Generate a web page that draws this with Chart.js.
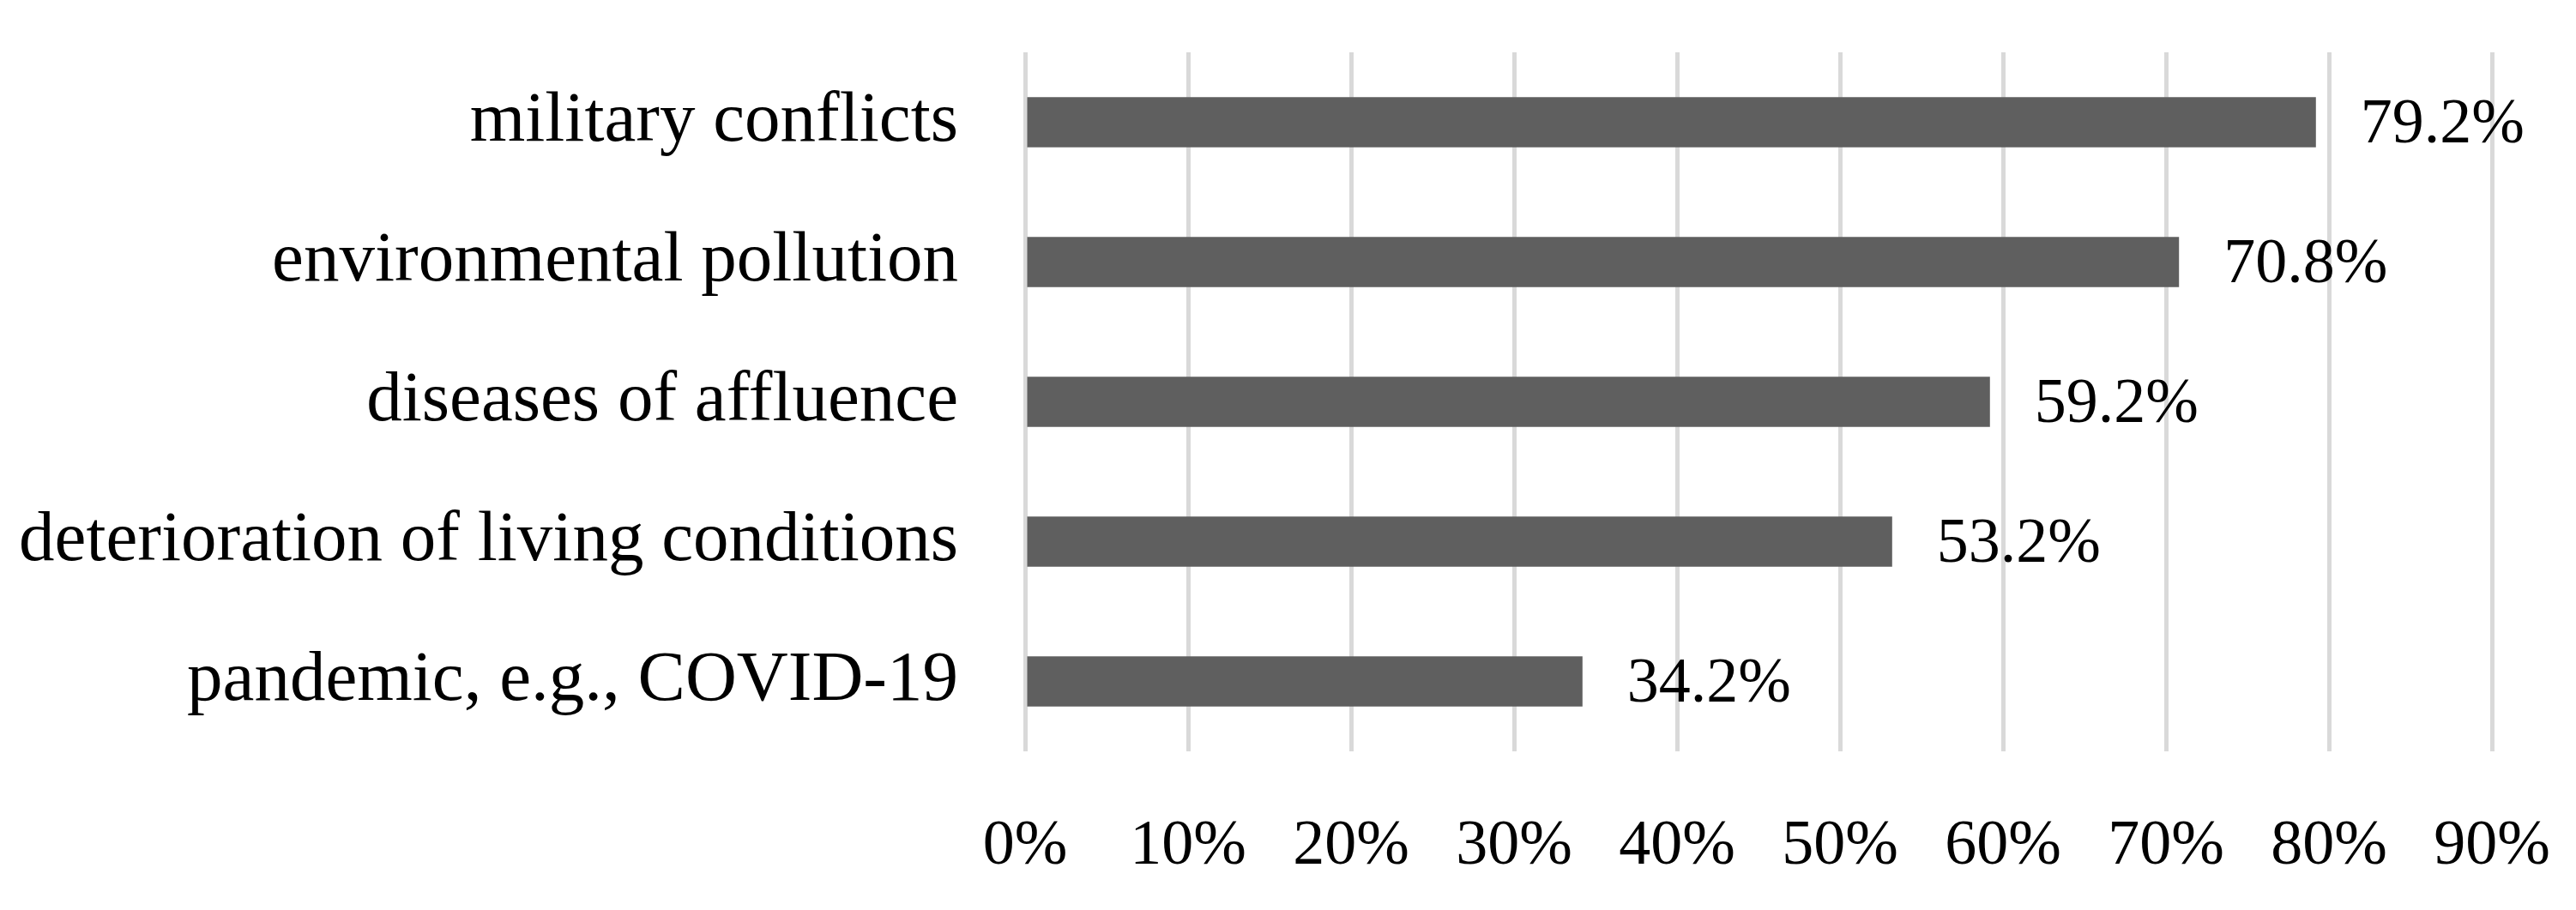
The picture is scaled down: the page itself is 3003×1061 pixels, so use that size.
<!DOCTYPE html>
<html lang="en">

<head>
    <meta charset="UTF-8">
    <title>Threats</title>
    <script src="https://cdn.jsdelivr.net/npm/chart.js"></script>
    <style>
        html, body { margin: 0; padding: 0; background: #fff; }
        #box { position: relative; width: 3003px; height: 1061px; }
    </style>
</head>

<body>
    <div id="box">
        <canvas id="barras"></canvas>
    </div>

    <script>
        // dados
        const categorias = [
            'military conflicts',
            'environmental pollution',
            'diseases of affluence',
            'deterioration of living conditions',
            'pandemic, e.g., COVID-19'
        ];
        const valores = [79.2, 70.8, 59.2, 53.2, 34.2];
        const rotulos = ['79.2%', '70.8%', '59.2%', '53.2%', '34.2%'];
        const ticksX = [0, 10, 20, 30, 40, 50, 60, 70, 80, 90];

        const fonte = 'Liberation Serif, Times New Roman, serif';
        const tamanho = 74;

        // escreve o valor ao lado de cada barra
        const rotuloBarras = {
            id: 'rotuloBarras',
            afterDatasetsDraw(chart) {
                const ctx = chart.ctx;
                const meta = chart.getDatasetMeta(0);
                ctx.save();
                ctx.font = `${tamanho}px ${fonte}`;
                ctx.fillStyle = '#000';
                ctx.textAlign = 'left';
                ctx.textBaseline = 'middle';
                meta.data.forEach(function (barra, i) {
                    ctx.fillText(rotulos[i], barra.x + 52, barra.y + 4);
                });
                ctx.restore();
            }
        };

        function semPadding(scale) {
            scale.paddingTop = 0;
            scale.paddingBottom = 0;
            scale.paddingLeft = 0;
            scale.paddingRight = 0;
        }

        const ctx = document.getElementById('barras').getContext('2d');
        new Chart(ctx, {
            type: 'bar',
            data: {
                labels: categorias,
                datasets: [{
                    data: valores,
                    backgroundColor: '#5f5f5f',
                    borderWidth: 0,
                    barPercentage: 0.36,
                    categoryPercentage: 1
                }]
            },
            options: {
                indexAxis: 'y',
                responsive: true,
                maintainAspectRatio: false,
                animation: false,
                layout: { padding: { top: 61, right: 98, left: 0, bottom: 0 } },
                plugins: {
                    legend: { display: false },
                    tooltip: { enabled: false }
                },
                scales: {
                    x: {
                        min: 0,
                        max: 90,
                        afterBuildTicks: function (scale) {
                            scale.ticks = ticksX.map(v => ({ value: v }));
                        },
                        afterFit: function (scale) {
                            scale.height = 185;
                            semPadding(scale);
                        },
                        grid: { color: '#d9d9d9', lineWidth: 5, drawTicks: false },
                        border: { display: false },
                        ticks: {
                            padding: 67,
                            color: '#000',
                            font: { family: fonte, size: tamanho },
                            maxRotation: 0,
                            callback: v => v + '%'
                        }
                    },
                    y: {
                        afterFit: function (scale) {
                            scale.width = 1195;
                            semPadding(scale);
                        },
                        grid: { display: false, drawTicks: false },
                        border: { display: false },
                        ticks: {
                            padding: 78,
                            color: '#000',
                            font: { family: fonte, size: 83 }
                        }
                    }
                }
            },
            plugins: [rotuloBarras]
        });
    </script>
</body>

</html>
